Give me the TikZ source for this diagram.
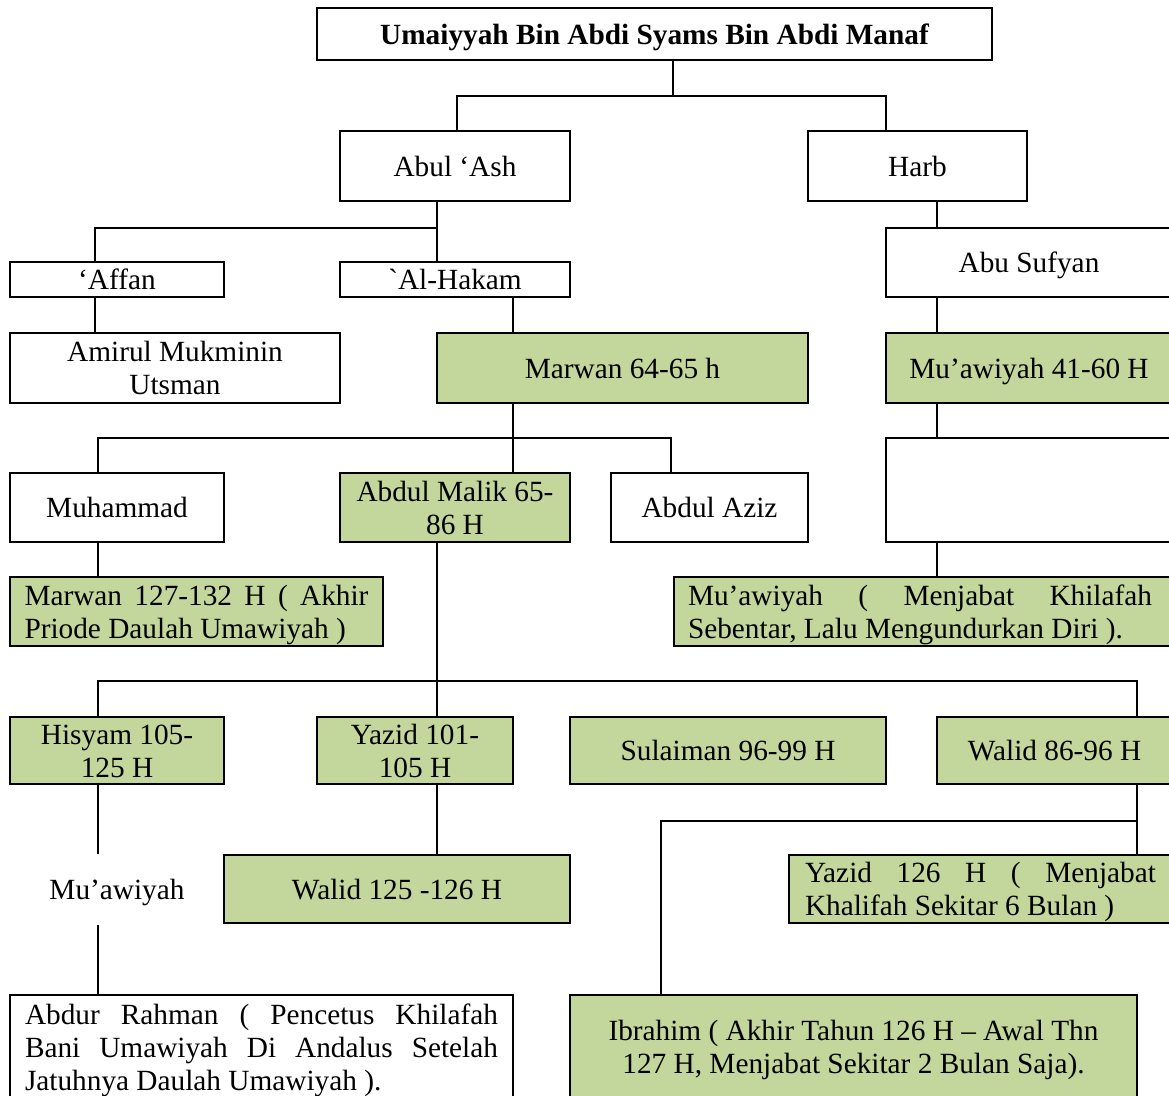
\documentclass[tikz,border=0pt]{standalone}
\usepackage{fontspec}
\setmainfont{Liberation Serif}
\newfontfamily\plainserif{Liberation Serif}
\definecolor{boxgreen}{RGB}{195,214,155}
\newcommand\st{\rule[-6.5pt]{0pt}{33pt}}
\begin{document}
\begin{tikzpicture}[x=1pt,y=-1pt,
  box/.style={draw=black, line width=2.2pt, inner sep=0pt, align=center,
    font=\fontsize{29.3}{33}\selectfont},
  grn/.style={box, fill=boxgreen},
  wht/.style={box, fill=white},
  jbox/.style={align=left},
  conn/.style={line width=2.4pt, line cap=rect}]
\useasboundingbox (0,0) rectangle (1169,1095);
\clip (0,0) rectangle (1169,1095);
\newcommand\mybox[7]{\node[#2, minimum width={#5-#3}, minimum height={#6-#4}] (#1) at ({(#3+#5)/2},{(#4+#6)/2}) {#7};}
% level 0-1
\mybox{title}{wht}{317}{8}{992}{60}{\st\bfseries Umaiyyah Bin Abdi Syams Bin Abdi Manaf}
\mybox{abul}{wht}{340}{131}{570}{201}{\st Abul ‘Ash}
\mybox{harb}{wht}{808}{131}{1027}{201}{\st Harb}
% level 2
\mybox{affan}{wht}{10}{262}{224}{297}{\st‘Affan}
\mybox{hakam}{wht}{340}{262}{570}{297}{\st{\plainserif`}Al-Hakam}
\mybox{sufyan}{wht}{886}{228}{1172}{297}{\st Abu Sufyan}
% level 3
\mybox{amirul}{wht}{10}{333}{340}{403}{\st Amirul Mukminin\\\st Utsman}
\mybox{marwan}{grn}{437}{333}{808}{403}{\st Marwan 64-65 h}
\mybox{mua41}{grn}{886}{333}{1172}{403}{\st Mu’awiyah 41-60 H}
% level 4
\mybox{muhammad}{wht}{10}{473}{224}{542}{\st Muhammad}
\mybox{malik}{grn}{340}{473}{570}{542}{\st Abdul Malik 65-\\\st 86 H}
\mybox{aziz}{wht}{611}{473}{808}{542}{\st Abdul Aziz}
\mybox{empty}{wht}{886}{438}{1172}{542}{}
% level 5
\mybox{marwan127}{grn,jbox}{10}{577}{383}{646}{\st\makebox[344pt][s]{Marwan 127-132 H ( Akhir}\\\st Priode Daulah Umawiyah )}
\mybox{muaj}{grn,jbox}{674}{577}{1172}{646}{\st\makebox[464pt][s]{Mu’awiyah ( Menjabat Khilafah}\hspace*{6pt}\\\st Sebentar, Lalu Mengundurkan Diri ).}
% level 6
\mybox{hisyam}{grn}{10}{717}{224}{784}{\st Hisyam 105-\\\st 125 H}
\mybox{yazid}{grn}{317}{717}{513}{784}{\st Yazid 101-\\\st 105 H}
\mybox{sulaiman}{grn}{570}{717}{886}{784}{\st Sulaiman 96-99 H}
\mybox{walid}{grn}{937}{717}{1172}{784}{\st Walid 86-96 H}
% level 7
\node[font=\fontsize{29.3}{33}\selectfont, inner sep=0pt, minimum height=73pt] (muatext) at (117,889) {\st Mu’awiyah};
\mybox{walid125}{grn}{224}{855}{570}{923}{\st Walid 125 -126 H}
\mybox{yazid126}{grn,jbox}{789}{855}{1172}{923}{\st\makebox[351pt][s]{Yazid 126 H ( Menjabat}\\\st Khalifah Sekitar 6 Bulan )}
% level 8
\mybox{abdur}{wht,jbox}{10}{995}{513}{1099}{\st\makebox[473pt][s]{Abdur Rahman ( Pencetus Khilafah}\\\st\makebox[473pt][s]{Bani Umawiyah Di Andalus Setelah}\\\st Jatuhnya Daulah Umawiyah ).}
\mybox{ibrahim}{grn}{570}{995}{1137}{1099}{\st Ibrahim ( Akhir Tahun 126 H – Awal Thn\\\st 127 H, Menjabat Sekitar 2 Bulan Saja).}
% connectors
\coordinate (j1) at (673,96);
\coordinate (j2) at (437,228);
\coordinate (j3) at (513,438);
\coordinate (j4) at (437,681);
\coordinate (j5) at (1137,821);
\begin{scope}[conn]
\draw (title.south -| j1) -- (j1);
\draw (abul.north -| 457,0) |- (j1) -| (harb.north -| 886,0);
\draw (abul.south -| j2) -- (j2);
\draw (affan.north -| 95,0) |- (j2) -- (hakam.north -| j2);
\draw (harb.south -| 937,0) -- (sufyan.north -| 937,0);
\draw (affan.south -| 95,0) -- (amirul.north -| 95,0);
\draw (hakam.south -| 513,0) -- (marwan.north -| 513,0);
\draw (sufyan.south -| 937,0) -- (mua41.north -| 937,0);
\draw (mua41.south -| 937,0) -- (empty.north -| 937,0);
\draw (empty.south -| 937,0) -- (muaj.north -| 937,0);
\draw (marwan.south -| j3) -- (j3);
\draw (muhammad.north -| 98,0) |- (j3) -| (aziz.north -| 671,0);
\draw (j3) -- (malik.north -| j3);
\draw (muhammad.south -| 98,0) -- (marwan127.north -| 98,0);
\draw (malik.south -| j4) -- (j4);
\draw (hisyam.north -| 98,0) |- (j4) -| (walid.north -| 1137,0);
\draw (j4) -- (yazid.north -| j4);
\draw (sulaiman.north -| 673,0) -- (sulaiman.north -| 673,0 |- j4);
\draw (hisyam.south -| 98,0) -- (muatext.north -| 98,0);
\draw (muatext.south -| 98,0) -- (abdur.north -| 98,0);
\draw (yazid.south -| 437,0) -- (walid125.north -| 437,0);
\draw (walid.south -| j5) -- (j5) -- (yazid126.north -| j5);
\draw (j5) -| (ibrahim.north -| 661,0);
\end{scope}
\end{tikzpicture}
\end{document}
